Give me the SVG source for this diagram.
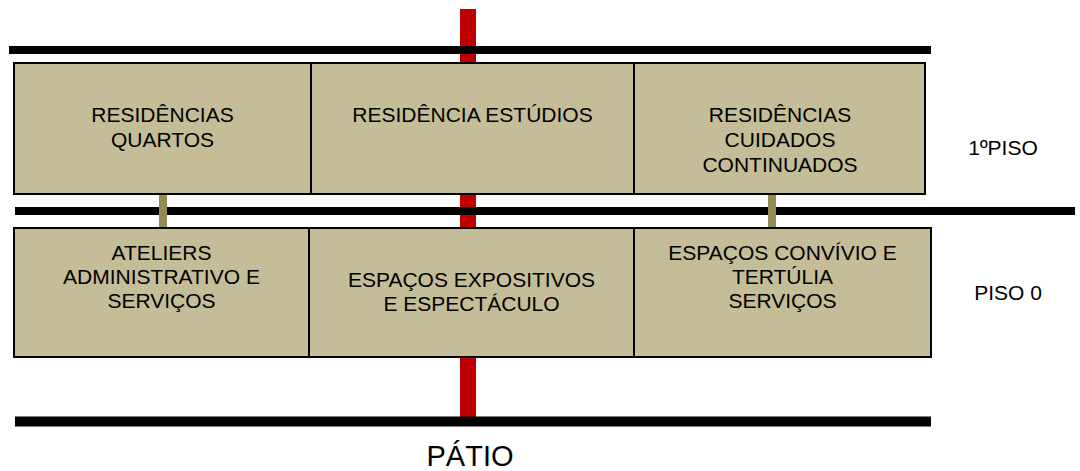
<svg xmlns="http://www.w3.org/2000/svg" width="1080" height="471" viewBox="0 0 1080 471">
<style>
.box{fill:#C4BD97;stroke:#000;stroke-width:2}
.t{font-family:"Liberation Sans",Arial,sans-serif;font-size:21px;fill:#000;text-anchor:middle}
.lvl{font-family:"Liberation Sans",Arial,sans-serif;font-size:21px;fill:#000;text-anchor:middle}
.floor{fill:#000}
.conn{fill:#948A54}
</style>
<rect width="1080" height="471" fill="#fff"/>
<g id="axis">
<rect x="460" y="9" width="16" height="410" fill="#C00000"/>
</g>
<g id="floors">
<rect class="floor" x="9" y="46" width="922" height="8"/>
<rect class="floor" x="15" y="207" width="1060" height="8"/>
<rect class="floor" x="15" y="416.5" width="916" height="10"/>
</g>
<g id="connectors">
<rect class="conn" x="159" y="194" width="8" height="34"/>
<rect class="conn" x="768" y="194" width="8" height="34"/>
</g>
<g id="n-residencias-quartos">
<rect class="box" x="14" y="63" width="297" height="131"/>
<text class="t" x="162.5" y="121.5">RESIDÊNCIAS</text>
<text class="t" x="162.5" y="146.5">QUARTOS</text>
</g>
<g id="n-residencia-estudios">
<rect class="box" x="311" y="63" width="323" height="131"/>
<text class="t" x="472.5" y="121.5">RESIDÊNCIA ESTÚDIOS</text>
</g>
<g id="n-residencias-cuidados">
<rect class="box" x="634" y="63" width="291" height="131"/>
<text class="t" x="780" y="121.5">RESIDÊNCIAS</text>
<text class="t" x="780" y="146.5">CUIDADOS</text>
<text class="t" x="780" y="171.5">CONTINUADOS</text>
</g>
<g id="n-ateliers">
<rect class="box" x="14" y="228" width="295" height="129"/>
<text class="t" x="161.5" y="259.5">ATELIERS</text>
<text class="t" x="161.5" y="283.5">ADMINISTRATIVO E</text>
<text class="t" x="161.5" y="307.5">SERVIÇOS</text>
</g>
<g id="n-espacos-expositivos">
<rect class="box" x="309" y="228" width="325" height="129"/>
<text class="t" x="471.5" y="286.5">ESPAÇOS EXPOSITIVOS</text>
<text class="t" x="471.5" y="310.5">E ESPECTÁCULO</text>
</g>
<g id="n-espacos-convivio">
<rect class="box" x="634" y="228" width="297" height="129"/>
<text class="t" x="782.5" y="259.5">ESPAÇOS CONVÍVIO E</text>
<text class="t" x="782.5" y="283.5">TERTÚLIA</text>
<text class="t" x="782.5" y="307.5">SERVIÇOS</text>
</g>
<g id="labels">
<text class="lvl" x="1003" y="155">1ºPISO</text>
<text class="lvl" x="1008" y="299.5">PISO 0</text>
<text class="lvl" x="470" y="466" style="font-size:29px">PÁTIO</text>
</g>
</svg>
